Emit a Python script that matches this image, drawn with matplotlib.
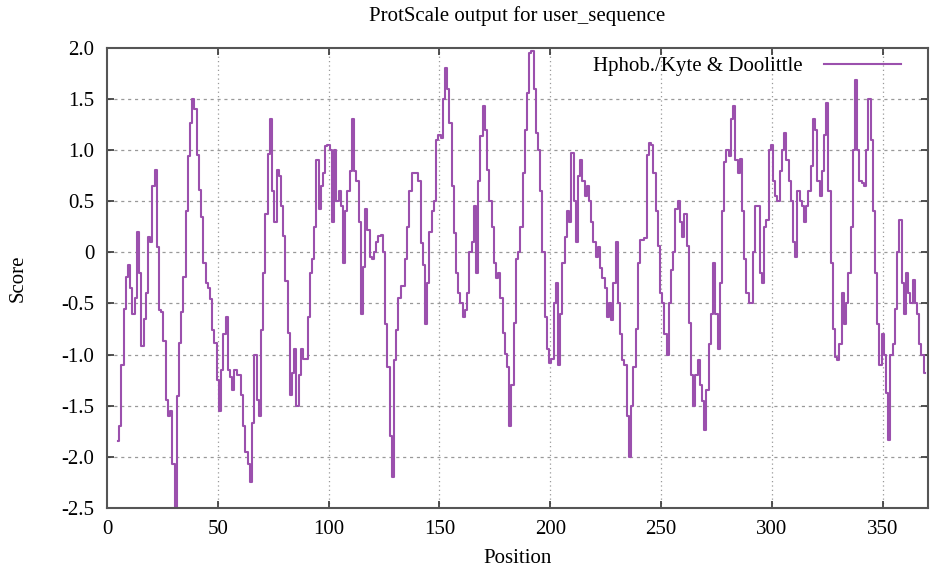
import matplotlib

matplotlib.use("Agg")
import matplotlib.pyplot as plt

# Kyte & Doolittle hydropathy scores, one per residue window centre (positions 5..369)
positions = list(range(5, 370))
scores = [
    -1.85, -1.7, -1.1, -0.55, -0.24,
    -0.12, -0.35, -0.6, -0.45, 0.2, -0.2, -0.92, -0.65, -0.4, 0.15,
    0.1, 0.65, 0.81, 0.05, -0.56, -0.58, -0.87, -1.44, -1.6, -1.55,
    -2.07, -2.5, -1.41, -0.89, -0.58, -0.24, 0.4, 0.94, 1.27, 1.5,
    1.4, 0.95, 0.61, 0.35, -0.1, -0.3, -0.35, -0.46, -0.76, -0.89,
    -1.25, -1.55, -1.15, -0.8, -0.63, -1.15, -1.22, -1.35, -1.15, -1.2,
    -1.2, -1.4, -1.7, -1.95, -2.07, -2.25, -1.67, -1.0, -1.44, -1.6,
    -0.76, -0.2, 0.37, 0.96, 1.3, 0.6, 0.3, 0.81, 0.75, 0.45,
    0.16, -0.28, -0.79, -1.4, -1.18, -0.95, -1.5, -1.2, -0.95, -1.04,
    -1.04, -0.63, -0.2, -0.07, 0.25, 0.9, 0.42, 0.65, 0.78, 1.04,
    1.05, 1.0, 0.3, 1.0, 0.5, 0.6, 0.45, -0.1, 0.4, 0.6,
    0.8, 1.3, 0.8, 0.7, 0.3, -0.6, -0.14, 0.42, 0.22, -0.05,
    -0.07, 0.0, 0.1, 0.16, 0.17, 0.0, -0.7, -1.12, -1.8, -2.2,
    -1.05, -0.76, -0.45, -0.33, -0.33, -0.07, 0.25, 0.6, 0.78, 0.78,
    0.78, 0.7, 0.09, -0.12, -0.7, -0.3, 0.2, 0.4, 0.5, 1.1,
    1.15, 1.12, 1.5, 1.8, 1.6, 1.27, 0.65, 0.19, -0.2, -0.4,
    -0.5, -0.63, -0.56, -0.4, 0.0, 0.1, 0.45, -0.2, 0.7, 1.14,
    1.43, 1.2, 0.81, 0.5, 0.25, -0.1, -0.25, -0.2, -0.45, -0.79,
    -0.99, -1.12, -1.7, -1.3, -0.69, -0.07, 0.0, 0.25, 0.78, 1.2,
    1.56, 1.95, 1.97, 1.6, 1.17, 1.0, 0.6, 0.0, -0.63, -0.95,
    -1.08, -1.04, -0.5, -0.3, -1.1, -0.6, -0.1, 0.15, 0.4, 0.3,
    0.97, 0.5, 0.1, 0.75, 0.9, 0.7, 0.55, 0.65, 0.5, 0.3,
    0.1, -0.05, 0.05, -0.15, -0.25, -0.35, -0.63, -0.5, -0.66, -0.3,
    0.1, -0.5, -0.8, -1.05, -1.1, -1.6, -2.0, -1.5, -1.12, -0.75,
    -0.1, 0.12, 0.12, 0.14, 0.95, 1.07, 1.05, 0.78, 0.4, 0.06,
    -0.4, -0.5, -0.8, -1.0, -0.5, -0.17, 0.0, 0.42, 0.5, 0.3,
    0.15, 0.37, 0.06, -0.69, -1.2, -1.5, -1.2, -1.05, -1.3, -1.45,
    -1.74, -1.35, -0.9, -0.6, -0.1, -0.6, -0.95, -0.3, 0.4, 0.88,
    1.0, 0.94, 1.3, 1.43, 0.9, 0.78, 0.91, 0.4, -0.07, -0.4,
    -0.5, -0.5, 0.0, 0.45, 0.45, -0.2, -0.3, 0.25, 0.32, 1.0,
    1.05, 0.7, 0.55, 0.5, 0.8, 1.0, 1.17, 0.9, 0.7, 0.5,
    0.1, -0.05, 0.6, 0.5, 0.45, 0.3, 0.45, 0.6, 0.84, 1.3,
    1.2, 0.7, 0.55, 0.8, 1.15, 1.46, 0.6, -0.1, -0.75, -1.02,
    -1.05, -0.9, -0.4, -0.7, -0.5, -0.2, 0.25, 1.0, 1.69, 1.0,
    0.7, 0.68, 0.65, 1.0, 1.5, 1.1, 0.4, -0.2, -0.7, -1.1,
    -0.8, -1.0, -1.38, -1.84, -1.0, -0.9, -0.55, 0.0, 0.32, -0.3,
    -0.6, -0.2, -0.4, -0.5, -0.27, -0.5, -0.6, -0.9, -1.0, -1.18,
]
x_ticks = [0, 50, 100, 150, 200, 250, 300, 350]
y_ticks = [-2.5, -2.0, -1.5, -1.0, -0.5, 0, 0.5, 1.0, 1.5, 2.0]
y_tick_labels = ["-2.5", "-2.0", "-1.5", "-1.0", "-0.5", "0", "0.5", "1.0", "1.5", "2.0"]
series_label = "Hphob./Kyte & Doolittle"

plt.rcParams["font.family"] = ["Liberation Serif", "DejaVu Serif"]

fig = plt.figure(figsize=(9.3, 5.7), dpi=100)
ax = fig.add_axes([0.115, 0.109, 0.883, 0.807])

ax.plot(positions, scores, drawstyle="steps-mid", color="#9b50ad",
        linewidth=1.5, label=series_label)

ax.set_xlim(0, 370.5)
ax.set_ylim(-2.5, 2.0)
ax.set_xticks(x_ticks)
ax.set_yticks(y_ticks)
ax.set_yticklabels(y_tick_labels)

for v in x_ticks[1:]:
    ax.axvline(v, color="#999999", linewidth=0.9, linestyle=(0, (1, 2.5)), zorder=0)
for v in y_ticks[1:-1]:
    ax.axhline(v, color="#999999", linewidth=0.9, linestyle=(0, (2.5, 3)), zorder=0)

ax.tick_params(direction="in", top=True, right=True, length=5, width=1.2,
               labelsize=15, colors="#333333", labelcolor="black")
ax.tick_params(axis="x", pad=9)
ax.tick_params(axis="y", pad=9)
for side in ax.spines.values():
    side.set_color("#555555")
    side.set_linewidth(1.5)

ax.set_title("ProtScale output for user_sequence", fontsize=15, pad=19)
ax.set_xlabel("Position", fontsize=15, labelpad=7)
ax.set_ylabel("Score", fontsize=15, labelpad=24)

ax.legend(loc="upper right", frameon=False, markerfirst=False, fontsize=15,
          handlelength=3.7, handletextpad=1.0, borderaxespad=0.0,
          borderpad=0.2, bbox_to_anchor=(0.972, 0.99))

fig.savefig("out.png", dpi=100)
plt.close(fig)
